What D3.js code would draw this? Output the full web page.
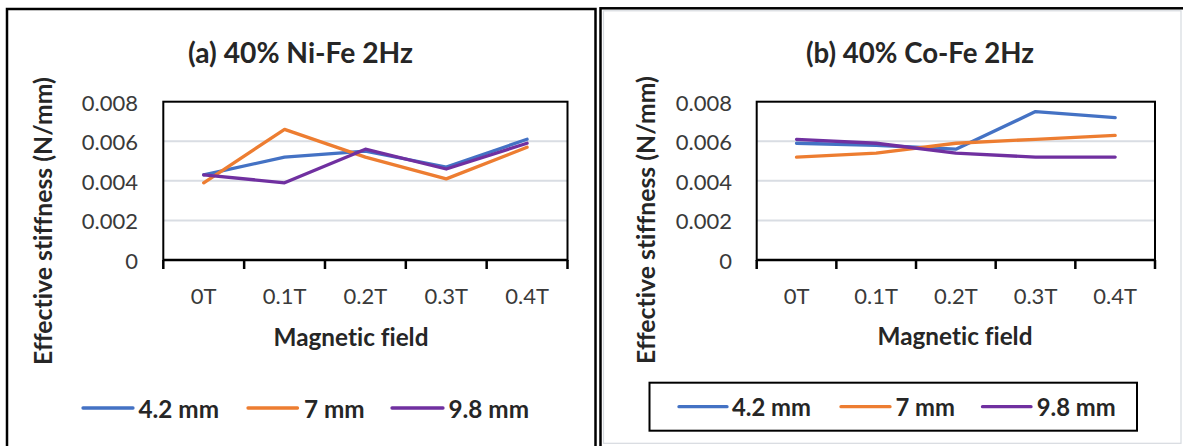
<!DOCTYPE html>
<html>
<head>
<meta charset="utf-8">
<script src="https://cdn.jsdelivr.net/npm/d3@7"></script>
<style>
  html, body { margin: 0; padding: 0; background: #fff; }
  svg { display: block; }
  text { font-family: Lato, "Open Sans", sans-serif; font-variant-ligatures: none; font-feature-settings: "liga" 0, "clig" 0; }
</style>
</head>
<body>
<svg id="chart" width="1183" height="446"></svg>
<script>
// ---- data ----
const categories = ["0T", "0.1T", "0.2T", "0.3T", "0.4T"];
const seriesNames = ["4.2 mm", "7 mm", "9.8 mm"];
const seriesColors = ["#4472C4", "#ED7D31", "#7030A0"];
const yTickValues = [0, 0.002, 0.004, 0.006, 0.008];

const niFeTitle = "(a) 40% Ni-Fe 2Hz";
const niFe_42 = [0.0043, 0.0052, 0.0055, 0.0047, 0.0061];
const niFe_7  = [0.0039, 0.0066, 0.0052, 0.0041, 0.0057];
const niFe_98 = [0.0043, 0.0039, 0.0056, 0.0046, 0.0059];

const coFeTitle = "(b) 40% Co-Fe 2Hz";
const coFe_42 = [0.0059, 0.0058, 0.0056, 0.0075, 0.0072];
const coFe_7  = [0.0052, 0.0054, 0.0059, 0.0061, 0.0063];
const coFe_98 = [0.0061, 0.0059, 0.0054, 0.0052, 0.0052];

const xTitle = "Magnetic field";
const yTitle = "Effective stiffness (N/mm)";

// ---- drawing ----
const svg = d3.select("#chart");

// panel frames
svg.append("rect").attr("x", 7).attr("y", 9).attr("width", 588.5).attr("height", 460)
  .attr("fill", "none").attr("stroke", "#000").attr("stroke-width", 2.5);
svg.append("rect").attr("x", 603.5).attr("y", 10.8).attr("width", 577.5).attr("height", 432.5)
  .attr("fill", "none").attr("stroke", "#d6dadf").attr("stroke-width", 1.2);
svg.append("rect").attr("x", 600.5).attr("y", 8.3).attr("width", 600).attr("height", 460)
  .attr("fill", "none").attr("stroke", "#000").attr("stroke-width", 2.5);

const textColor = "#262626";
const tickColor = "#3a3a3a";

function fitSize(sel, base, target) {
  sel.style("font-size", base + "px");
  const w = sel.node().getComputedTextLength();
  const s = base * target / w;
  sel.style("font-size", s + "px");
  return s;
}

function drawPanel(p) {
  const g = svg.append("g");
  const x = d3.scaleBand().domain(categories).range([p.left, p.right]).padding(0);
  const y = d3.scaleLinear().domain([0, 0.008]).range([p.bottom, p.top]);

  // gridlines
  g.append("g").selectAll("line").data(yTickValues.filter(v => v > 0 && v < 0.008))
    .join("line")
    .attr("x1", p.left).attr("x2", p.right)
    .attr("y1", d => y(d)).attr("y2", d => y(d))
    .attr("stroke", "#d9dde3").attr("stroke-width", 2);

  // plot box
  g.append("rect").attr("x", p.left).attr("y", y(0.008))
    .attr("width", p.right - p.left).attr("height", y(0) - y(0.008))
    .attr("fill", "none").attr("stroke", "#000").attr("stroke-width", 2);

  // y axis labels
  const yAxis = d3.axisLeft(y).tickValues(yTickValues).tickSize(0).tickPadding(0)
    .tickFormat(d => d === 0 ? "0" : d3.format(".3f")(d));
  const ya = g.append("g").attr("transform", `translate(${p.yLabelRight},0)`).call(yAxis);
  ya.select(".domain").remove();
  ya.selectAll("text").attr("fill", tickColor).attr("font-family", "Lato").attr("dy", null)
    .attr("dominant-baseline", "central").style("font-size", p.tickSize + "px");

  // x axis line + boundary ticks
  g.append("line").attr("x1", p.left).attr("x2", p.right)
    .attr("y1", y(0)).attr("y2", y(0)).attr("stroke", "#000").attr("stroke-width", 2.5);
  const edges = categories.map(c => x(c)).concat([p.right]);
  g.append("g").selectAll("line").data(edges).join("line")
    .attr("x1", d => d).attr("x2", d => d)
    .attr("y1", y(0)).attr("y2", y(0) + 9)
    .attr("stroke", "#000").attr("stroke-width", 2.5);

  // x tick labels
  const xAxis = d3.axisBottom(x).tickSize(0).tickPadding(0);
  const xa = g.append("g").attr("transform", `translate(0,${p.xLabelY})`).call(xAxis);
  xa.select(".domain").remove();
  xa.selectAll("text").attr("fill", tickColor).attr("font-family", "Lato").attr("dy", null)
    .attr("y", 0).attr("dominant-baseline", "central").style("font-size", p.tickSize + "px");

  // series lines
  const line = d3.line().x((d, i) => x(categories[i]) + x.bandwidth() / 2).y(d => y(d));
  p.series.forEach((s, i) => {
    g.append("path").datum(s).attr("d", line)
      .attr("fill", "none").attr("stroke", seriesColors[i]).attr("stroke-width", 3.3)
      .attr("stroke-linejoin", "round").attr("stroke-linecap", "round");
  });

  // title
  const t = g.append("text").text(p.title).attr("x", p.titleX).attr("y", p.titleY)
    .attr("text-anchor", "middle").attr("dominant-baseline", "central")
    .attr("font-weight", "bold").attr("fill", textColor);
  fitSize(t, 24, p.titleW);

  // x title
  const xt = g.append("text").text(xTitle).attr("x", p.xTitleX).attr("y", p.xTitleY)
    .attr("text-anchor", "middle").attr("dominant-baseline", "central")
    .attr("font-weight", "bold").attr("fill", textColor);
  fitSize(xt, 20, 155);

  // y title
  const yt = g.append("text").text(yTitle)
    .attr("transform", `translate(${p.yTitleX},${p.yTitleY}) rotate(-90)`)
    .attr("text-anchor", "middle").attr("dominant-baseline", "central")
    .attr("font-weight", "bold").attr("fill", textColor);
  fitSize(yt, 20, 288);

  // legend
  if (p.legendBox) {
    g.append("rect").attr("x", p.legendBox[0]).attr("y", p.legendBox[1])
      .attr("width", p.legendBox[2]).attr("height", p.legendBox[3])
      .attr("fill", "none").attr("stroke", "#000").attr("stroke-width", 2);
  }
  let legSize = null;
  seriesNames.forEach((name, i) => {
    const it = p.legendItems[i];
    g.append("line").attr("x1", it[0]).attr("x2", it[1]).attr("y1", p.legendY).attr("y2", p.legendY)
      .attr("stroke", seriesColors[i]).attr("stroke-width", 3.3).attr("stroke-linecap", "round");
    const lt = g.append("text").text(name).attr("x", it[2]).attr("y", p.legendY)
      .attr("dominant-baseline", "central").attr("font-weight", "bold").attr("fill", textColor);
    if (legSize === null) legSize = fitSize(lt, 18, it[3]);
    else lt.style("font-size", legSize + "px");
  });
}

drawPanel({
  left: 163.3, right: 567.5, top: 101.7, bottom: 260,
  yLabelRight: 138, xLabelY: 295, tickSize: 22,
  series: [niFe_42, niFe_7, niFe_98],
  title: niFeTitle, titleX: 300.5, titleY: 52, titleW: 225,
  xTitleX: 351, xTitleY: 336,
  yTitleX: 42.5, yTitleY: 221,
  legendY: 408,
  legendItems: [[83, 133, 138.5, 80.5], [248, 297.5, 304], [392, 443, 448.5]],
  legendBox: null
});

drawPanel({
  left: 756.7, right: 1155, top: 101.7, bottom: 260,
  yLabelRight: 732, xLabelY: 295, tickSize: 22,
  series: [coFe_42, coFe_7, coFe_98],
  title: coFeTitle, titleX: 920, titleY: 52, titleW: 228,
  xTitleX: 955, xTitleY: 335,
  yTitleX: 645.5, yTitleY: 220,
  legendY: 406.7,
  legendItems: [[679, 727, 732, 79], [841, 890, 895.5], [982.5, 1031, 1036.8]],
  legendBox: [649.5, 382.7, 487.5, 48]
});
</script>
</body>
</html>
